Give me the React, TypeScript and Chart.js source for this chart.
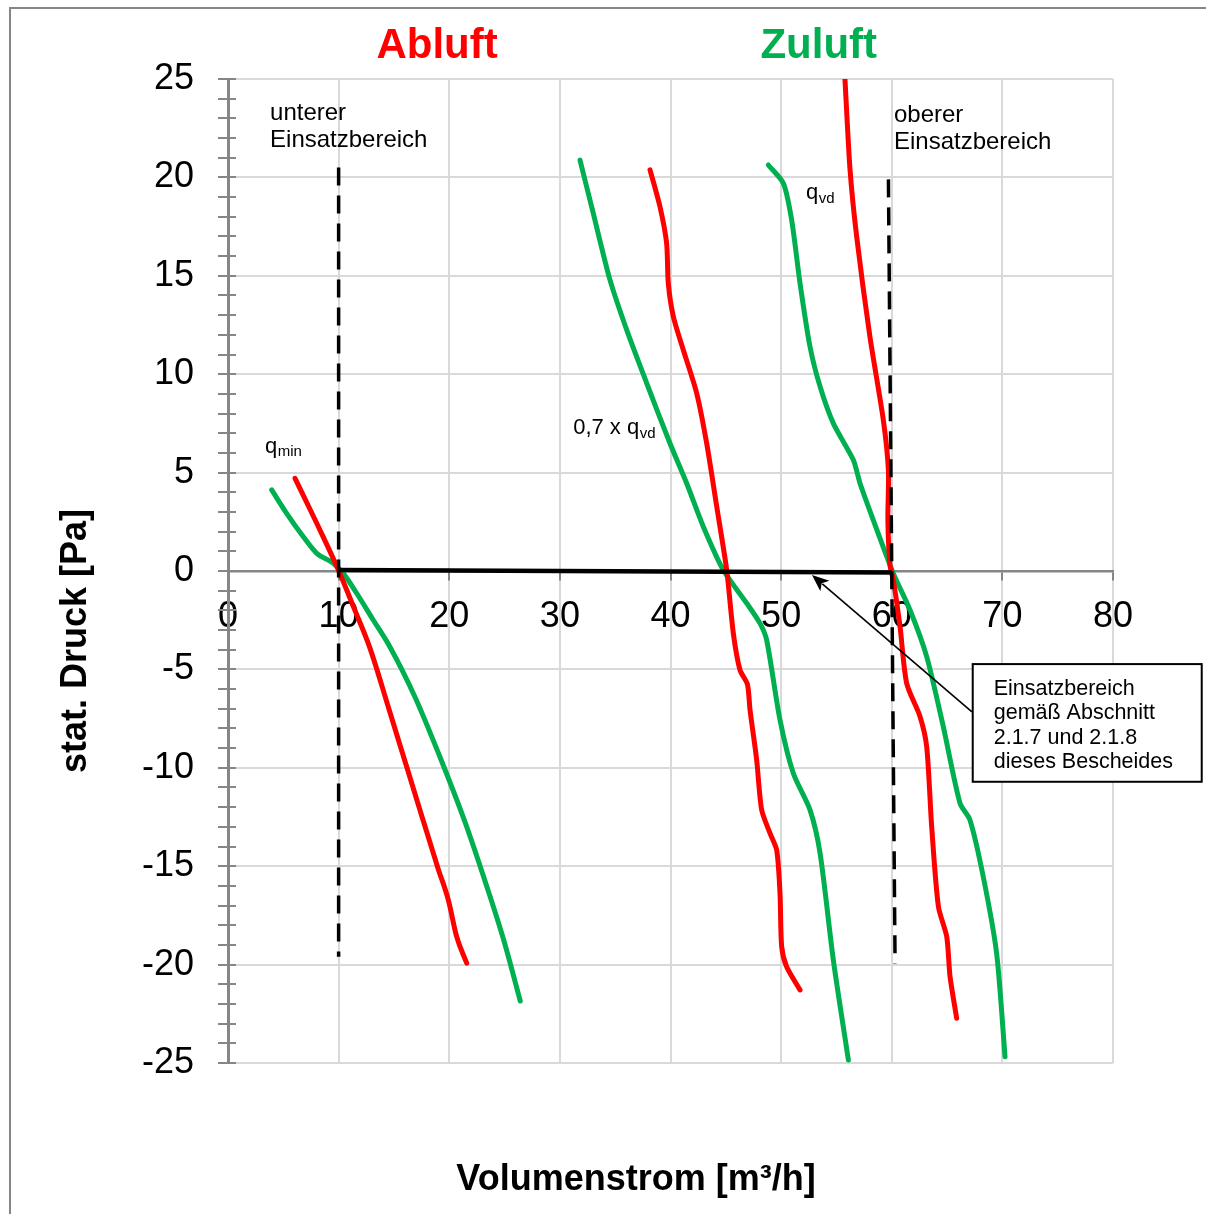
import React, { useEffect, useRef } from 'react';
import { Chart, registerables } from 'chart.js';

Chart.register(...registerables);

const FONT = 'Arial, "Liberation Sans", Helvetica, sans-serif';

// Axis ranges / ticks
const xMin = 0;
const xMax = 80;
const xStep = 10;
const yMin = -25;
const yMax = 25;
const yStep = 5;

type P = [number, number];

// Abluft (red) characteristic curves [Volumenstrom, Druck]
const abluftQmin: P[] = [
  [6.06, 4.71], [8.0, 2.45], [9.94, 0.1], [11.4, -1.9], [12.84, -3.93], [14.54, -7.0],
  [16.18, -10.0], [17.6, -12.6], [18.98, -15.1], [19.92, -16.72], [20.67, -18.58],
  [21.58, -19.93],
];
const abluftQ07: P[] = [
  [38.15, 20.38], [39.05, 18.51], [39.65, 16.65], [39.8, 14.62], [40.26, 12.92],
  [41.16, 11.23], [42.37, 9.03], [43.27, 6.49], [44.18, 3.27], [45.08, 0.05],
  [45.68, -3.17], [46.28, -5.03], [46.95, -5.75], [47.19, -7.06], [47.79, -9.6],
  [48.24, -12.14], [49.0, -13.33], [49.6, -14.18], [49.9, -16.38], [50.05, -19.09],
  [50.5, -20.11], [51.71, -21.29],
];
const abluftQvd: P[] = [
  [55.77, 25.0], [56.23, 20.38], [56.83, 16.99], [58.03, 11.9], [59.24, 7.67],
  [59.7, 5.1], [59.65, 2.6], [59.84, 0.3], [60.14, -0.46], [60.75, -2.83],
  [61.35, -5.71], [62.56, -7.4], [63.16, -8.93], [63.61, -12.99], [64.22, -17.06],
  [64.97, -18.58], [65.27, -20.61], [65.87, -22.73],
];

// Zuluft (green) characteristic curves
const zuluftQmin: P[] = [
  [3.95, 4.12], [5.3, 2.93], [6.81, 1.74], [8.02, 0.9], [9.52, 0.39], [10.42, -0.12],
  [11.63, -1.13], [13.13, -2.49], [14.64, -3.86], [16.9, -6.4], [19.16, -9.45],
  [21.42, -12.75], [23.55, -16.3], [25.0, -18.9], [26.42, -21.85],
];
const zuluftQ07: P[] = [
  [31.82, 20.88], [33.02, 18.17], [34.53, 14.79], [36.04, 12.25], [37.85, 9.54],
  [39.95, 6.49], [41.46, 4.46], [42.97, 2.25], [44.77, 0.05], [46.89, -1.64],
  [48.09, -2.66], [48.69, -3.5], [49.9, -7.57], [51.1, -10.28], [52.61, -12.14],
  [53.52, -14.34], [54.72, -19.77], [56.08, -24.85],
];
const zuluftQvd: P[] = [
  [48.84, 20.63], [50.2, 19.7], [50.95, 17.84], [51.71, 14.62], [52.61, 11.4],
  [53.52, 9.37], [54.72, 7.5], [56.53, 5.64], [57.13, 4.46], [58.33, 2.59],
  [60.14, -0.12], [61.65, -1.98], [63.16, -4.35], [64.66, -7.91], [66.17, -11.8],
  [67.07, -12.65], [68.27, -15.53], [69.48, -19.43], [70.24, -24.68],
];

// Limits of the operating range
const lowerLimit: P[] = [[10, 20.5], [10, -19.6]];
const upperLimit: P[] = [[59.7, 19.9], [60.3, -19.95]];
const operatingRange: P[] = [[10, 0.05], [60, -0.08]];

// Annotations (data coordinates)
const arrowFrom: P = [67.25, -7.16];
const arrowTo: P = [52.79, -0.2];
const boxTopLeft: P = [67.32, -4.73];
const boxBottomRight: P = [88.02, -10.71];
const boxLines = ['Einsatzbereich', 'gemäß Abschnitt', '2.1.7 und 2.1.8', 'dieses Bescheides'];
const lowerLabel = ['unterer', 'Einsatzbereich'];
const upperLabel = ['oberer', 'Einsatzbereich'];
const lowerLabelPos: P = [3.8, 22.92];
const upperLabelPos: P = [60.2, 22.82];
const qminPos: P = [3.34, 6.0];
const qvdPos: P = [52.25, 18.9];
const q07Pos: P = [31.2, 6.96];
const abluftTitleX = 18.9;
const zuluftTitleX = 53.4;

const RED = '#ff0000';
const GREEN = '#00b050';
const AXIS_GREY = '#868686';
const GRID_GREY = '#d9d9d9';

const toXY = (pts: P[]) => pts.map(([x, y]) => ({ x, y }));

function qLabel(ctx: CanvasRenderingContext2D, px: number, py: number, prefix: string, sub: string) {
  ctx.font = `22px ${FONT}`;
  ctx.textAlign = 'left';
  ctx.textBaseline = 'alphabetic';
  ctx.fillStyle = '#000';
  ctx.fillText(prefix, px, py);
  const w = ctx.measureText(prefix).width;
  ctx.font = `15px ${FONT}`;
  ctx.fillText(sub, px + w + 0.5, py + 3.5);
}

const decorPlugin = {
  id: 'decor',
  beforeDraw(chart: any) {
    const ctx: CanvasRenderingContext2D = chart.ctx;
    ctx.save();
    ctx.fillStyle = '#ffffff';
    ctx.fillRect(0, 0, chart.width, chart.height);
    ctx.strokeStyle = AXIS_GREY;
    ctx.lineWidth = 2;
    ctx.beginPath();
    ctx.moveTo(10, chart.height);
    ctx.lineTo(10, 8);
    ctx.lineTo(chart.width, 8);
    ctx.stroke();
    ctx.restore();
  },
  afterDraw(chart: any) {
    const ctx: CanvasRenderingContext2D = chart.ctx;
    const { chartArea } = chart;
    const xs = chart.scales.x;
    const ys = chart.scales.y;
    const X = (v: number) => xs.getPixelForValue(v);
    const Y = (v: number) => ys.getPixelForValue(v);
    ctx.save();

    // minor + major tick marks on the y axis
    ctx.strokeStyle = AXIS_GREY;
    ctx.lineWidth = 2;
    for (let v = yMin; v <= yMax; v++) {
      const py = Math.round(Y(v));
      ctx.beginPath();
      ctx.moveTo(chartArea.left - 10, py);
      ctx.lineTo(chartArea.left + 8, py);
      ctx.stroke();
    }

    // series titles
    ctx.font = `bold 42px ${FONT}`;
    ctx.textAlign = 'center';
    ctx.textBaseline = 'alphabetic';
    ctx.fillStyle = RED;
    ctx.fillText('Abluft', X(abluftTitleX), chartArea.top - 21);
    ctx.fillStyle = GREEN;
    ctx.fillText('Zuluft', X(zuluftTitleX), chartArea.top - 21);

    // axis titles
    ctx.fillStyle = '#000';
    ctx.font = `bold 36px ${FONT}`;
    ctx.fillText('Volumenstrom [m³/h]', 636, 1190);
    ctx.save();
    ctx.translate(86, 641);
    ctx.rotate(-Math.PI / 2);
    ctx.fillText('stat. Druck [Pa]', 0, 0);
    ctx.restore();

    // range labels
    ctx.font = `24px ${FONT}`;
    ctx.textAlign = 'left';
    lowerLabel.forEach((s, i) => ctx.fillText(s, X(lowerLabelPos[0]), Y(lowerLabelPos[1]) + i * 27));
    upperLabel.forEach((s, i) => ctx.fillText(s, X(upperLabelPos[0]), Y(upperLabelPos[1]) + i * 27));

    qLabel(ctx, X(qminPos[0]), Y(qminPos[1]), 'q', 'min');
    qLabel(ctx, X(qvdPos[0]), Y(qvdPos[1]), 'q', 'vd');
    qLabel(ctx, X(q07Pos[0]), Y(q07Pos[1]), '0,7 x q', 'vd');

    // arrow
    const ax1 = X(arrowFrom[0]);
    const ay1 = Y(arrowFrom[1]);
    const ax2 = X(arrowTo[0]);
    const ay2 = Y(arrowTo[1]);
    const ang = Math.atan2(ay2 - ay1, ax2 - ax1);
    const headLen = 17;
    const headW = 7;
    ctx.strokeStyle = '#000';
    ctx.lineWidth = 1.6;
    ctx.beginPath();
    ctx.moveTo(ax1, ay1);
    ctx.lineTo(ax2 - Math.cos(ang) * headLen * 0.8, ay2 - Math.sin(ang) * headLen * 0.8);
    ctx.stroke();
    ctx.fillStyle = '#000';
    ctx.beginPath();
    ctx.moveTo(ax2, ay2);
    ctx.lineTo(ax2 - Math.cos(ang) * headLen - Math.sin(ang) * headW, ay2 - Math.sin(ang) * headLen + Math.cos(ang) * headW);
    ctx.lineTo(ax2 - Math.cos(ang) * headLen * 0.75, ay2 - Math.sin(ang) * headLen * 0.75);
    ctx.lineTo(ax2 - Math.cos(ang) * headLen + Math.sin(ang) * headW, ay2 - Math.sin(ang) * headLen - Math.cos(ang) * headW);
    ctx.closePath();
    ctx.fill();

    // text box
    const bx = X(boxTopLeft[0]);
    const by = Y(boxTopLeft[1]);
    const bw = X(boxBottomRight[0]) - bx;
    const bh = Y(boxBottomRight[1]) - by;
    ctx.fillStyle = '#fff';
    ctx.fillRect(bx, by, bw, bh);
    ctx.strokeStyle = '#000';
    ctx.lineWidth = 2;
    ctx.strokeRect(bx, by, bw, bh);
    ctx.fillStyle = '#000';
    ctx.font = `21.5px ${FONT}`;
    boxLines.forEach((s, i) => ctx.fillText(s, bx + 21, by + 31 + i * 24.3));

    ctx.restore();
  },
};

export default function App() {
  const canvasRef = useRef<HTMLCanvasElement | null>(null);

  useEffect(() => {
    if (!canvasRef.current) return;
    const curve = (data: P[], color: string, monotone = false) => ({
      data: toXY(data),
      borderColor: color,
      backgroundColor: color,
      borderWidth: 5,
      pointRadius: 0,
      tension: 0.25,
      cubicInterpolationMode: monotone ? 'monotone' : 'default',
      fill: false,
      borderCapStyle: 'round' as const,
      borderJoinStyle: 'round' as const,
    });
    const dashed = (data: P[]) => ({
      data: toXY(data),
      borderColor: '#000',
      borderWidth: 3.5,
      borderDash: [18, 10],
      pointRadius: 0,
      tension: 0,
      fill: false,
    });
    const chart = new Chart(canvasRef.current, {
      type: 'line',
      data: {
        datasets: [
          {
            data: toXY(operatingRange),
            borderColor: '#000',
            borderWidth: 4.5,
            pointRadius: 0,
            tension: 0,
            fill: false,
          },
          dashed(lowerLimit),
          dashed(upperLimit),
          curve(abluftQmin, RED, true),
          curve(abluftQ07, RED),
          curve(abluftQvd, RED),
          curve(zuluftQmin, GREEN, true),
          curve(zuluftQ07, GREEN),
          curve(zuluftQvd, GREEN),
        ] as any,
      },
      options: {
        animation: false,
        responsive: false,
        maintainAspectRatio: false,
        layout: { padding: { left: 0, right: 93, top: 79, bottom: 151 } },
        plugins: {
          legend: { display: false },
          tooltip: { enabled: false },
          title: { display: false },
        },
        scales: {
          x: {
            type: 'linear',
            min: xMin,
            max: xMax,
            position: { y: 0 } as any,
            grid: {
              color: GRID_GREY,
              lineWidth: 2,
              tickColor: AXIS_GREY,
              tickLength: 8,
              tickWidth: 2,
            },
            border: { display: true, color: AXIS_GREY, width: 2.5 },
            ticks: {
              stepSize: xStep,
              padding: 16,
              maxRotation: 0,
              autoSkip: false,
              color: '#000',
              font: { family: FONT, size: 36 },
            },
          },
          y: {
            type: 'linear',
            min: yMin,
            max: yMax,
            grid: {
              color: GRID_GREY,
              lineWidth: 2,
              drawTicks: false,
            },
            border: { display: true, color: AXIS_GREY, width: 3 },
            ticks: {
              stepSize: yStep,
              padding: 34,
              autoSkip: false,
              color: '#000',
              font: { family: FONT, size: 36 },
            },
            afterFit: (scale: any) => {
              scale.width = 228;
            },
          },
        },
      } as any,
      plugins: [decorPlugin],
    });
    return () => chart.destroy();
  }, []);

  return (
    <div style={{ position: 'absolute', left: 0, top: 0, width: 1206, height: 1214 }}>
      <canvas ref={canvasRef} width={1206} height={1214} style={{ width: 1206, height: 1214 }} />
    </div>
  );
}
